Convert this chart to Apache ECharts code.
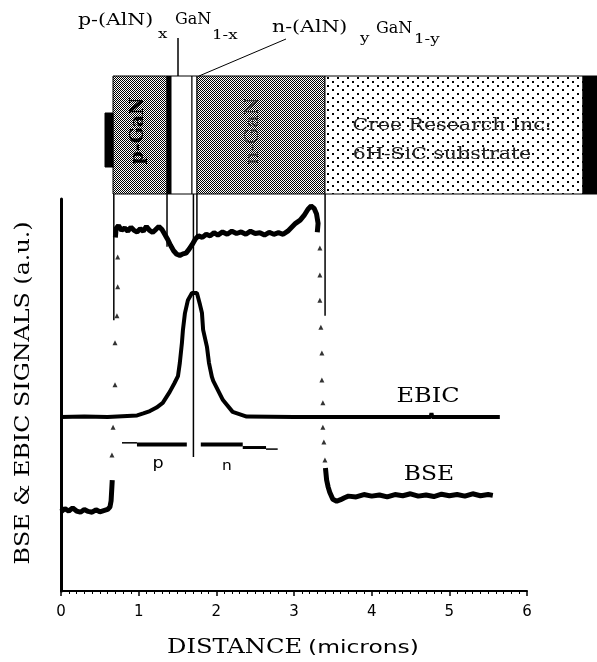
<!DOCTYPE html>
<html>
<head>
<meta charset="utf-8">
<script src="https://cdn.jsdelivr.net/npm/echarts@6/dist/echarts.min.js"></script>
<style>
html, body { margin: 0; padding: 0; background: #fff; }
#main { width: 597px; height: 662px; }
</style>
</head>
<body>
<div id="main"></div>
<script>
// distance in microns, signals in arbitrary units (axis height = 100)
const xTicks = ['0', '1', '2', '3', '4', '5', '6'];

const ebic = [
  [0, 44.4], [0.3, 44.5], [0.6, 44.4], [0.98, 44.8], [1.06, 45.3], [1.145, 45.9], [1.23, 46.8],
  [1.31, 48.0], [1.40, 50.8], [1.46, 53.0], [1.506, 54.8], [1.53, 58.2], [1.557, 63.3],
  [1.57, 66.6], [1.596, 70.9], [1.634, 74.2], [1.686, 76.0], [1.75, 76.0], [1.79, 73.0],
  [1.815, 70.9], [1.83, 66.6], [1.88, 62.2], [1.905, 58.2], [1.943, 54.6], [1.96, 53.6],
  [2.085, 48.7], [2.21, 45.7], [2.39, 44.5], [3.0, 44.4], [4.0, 44.4], [4.76, 44.4],
  [4.77, 45.4], [4.78, 44.4], [5.65, 44.4]
];

const bseLeft = [
  [0, 20.2], [0.05, 21.0], [0.1, 20.4], [0.15, 21.2], [0.2, 20.4], [0.25, 20.1], [0.3, 20.8],
  [0.35, 20.3], [0.4, 20.1], [0.45, 20.7], [0.5, 20.2], [0.55, 20.5], [0.6, 20.8],
  [0.63, 21.4], [0.645, 23.0], [0.655, 26.5], [0.66, 28.3]
];
const bseLeftDots = [
  [0.656, 34.7], [0.67, 41.8], [0.695, 52.6], [0.695, 63.3], [0.72, 70.2], [0.73, 77.6], [0.73, 85.2]
];
const bseTop = [
  [0.70, 90.2], [0.71, 92.5], [0.74, 93.2], [0.78, 92.0], [0.82, 92.6], [0.86, 91.8], [0.90, 92.8],
  [0.94, 92.0], [0.98, 91.6], [1.02, 92.4], [1.06, 91.8], [1.10, 93.0], [1.14, 92.0], [1.18, 91.5],
  [1.22, 92.2], [1.26, 93.0], [1.30, 92.2], [1.33, 91.2], [1.37, 89.8], [1.41, 88.2], [1.45, 86.8],
  [1.49, 85.9], [1.53, 85.6], [1.57, 86.0], [1.61, 86.2], [1.65, 87.2], [1.69, 88.4], [1.73, 89.8],
  [1.77, 90.6], [1.82, 90.2], [1.87, 91.0], [1.92, 90.6], [1.97, 91.4], [2.02, 90.8], [2.08, 91.6],
  [2.14, 91.0], [2.20, 91.8], [2.26, 91.2], [2.32, 91.6], [2.38, 91.0], [2.44, 91.8], [2.50, 91.2],
  [2.56, 91.4], [2.62, 90.8], [2.68, 91.5], [2.74, 91.0], [2.80, 91.4], [2.86, 91.0], [2.92, 91.8],
  [2.97, 92.8], [3.02, 93.8], [3.08, 94.6], [3.13, 95.8], [3.18, 97.4], [3.22, 98.2], [3.26, 97.6],
  [3.29, 96.2], [3.31, 93.8], [3.30, 91.5]
];
const bseRightDots = [
  [3.333, 87.5], [3.333, 80.6], [3.333, 74.2], [3.346, 67.3], [3.359, 60.7], [3.359, 53.8],
  [3.372, 48.0], [3.372, 41.8], [3.385, 38.0], [3.398, 33.4]
];
const bseRight = [
  [3.405, 31.4], [3.42, 28.3], [3.44, 26.5], [3.46, 25.2], [3.50, 23.4], [3.55, 22.9], [3.60, 23.3],
  [3.65, 23.8], [3.70, 24.2], [3.8, 24.0], [3.9, 24.6], [4.0, 24.2], [4.1, 24.5], [4.2, 24.0],
  [4.3, 24.6], [4.4, 24.3], [4.5, 24.8], [4.6, 24.2], [4.7, 24.5], [4.8, 24.1], [4.9, 24.7],
  [5.0, 24.3], [5.1, 24.6], [5.2, 24.2], [5.3, 24.8], [5.4, 24.3], [5.5, 24.6], [5.56, 24.4]
];

// device layers drawn above the plot (edges in microns)
const layerEdges = [0.67, 1.365, 1.415, 1.685, 1.75, 3.40, 6.72, 6.91];
const layerKinds = ['dark', 'black', 'white', 'white', 'dark', 'dots', 'black'];
const boxRange = [101.3, 131.4];
const contactTab = [0.566, 0.669, 108.2, 121.9];

// guide lines: x0, y0, x1, y1, width
const guides = [
  [0.68, 101.3, 0.68, 69.1, 1.5],
  [1.365, 101.3, 1.365, 87.8, 1.5],
  [1.705, 101.3, 1.705, 34.2, 1.5],
  [1.75, 101.3, 1.75, 90.5, 1.5],
  [3.40, 101.3, 3.40, 70.2, 1.5],
  [0.785, 37.8, 0.978, 37.8, 1.5],
  [0.978, 37.4, 1.62, 37.4, 4],
  [1.80, 37.4, 2.34, 37.4, 4],
  [2.34, 36.6, 2.64, 36.6, 3],
  [2.64, 36.2, 2.79, 36.2, 1.5]
];

function makePattern(w, h, dots) {
  const c = document.createElement('canvas');
  c.width = w; c.height = h;
  const g = c.getContext('2d');
  g.fillStyle = '#fff';
  g.fillRect(0, 0, w, h);
  g.fillStyle = '#000';
  dots.forEach(d => g.fillRect(d[0], d[1], d[2], d[3]));
  return { image: c, repeat: 'repeat' };
}
const fills = {
  dark: makePattern(2, 2, [[0, 0, 1, 1], [1, 1, 1, 1]]),
  dots: makePattern(10, 8, [[2, 1, 2, 2], [7, 5, 2, 2]]),
  white: '#fff',
  black: '#000'
};

const layerData = [];
for (let i = 0; i < layerKinds.length; i++) {
  layerData.push([layerEdges[i], layerEdges[i + 1], boxRange[0], boxRange[1], i]);
}
layerData.push([contactTab[0], contactTab[1], contactTab[2], contactTab[3], -1]);

const chart = echarts.init(document.getElementById('main'));

const serif = '"DejaVu Serif", serif';
const sans = '"DejaVu Sans", sans-serif';
const W = 1.28;

function txt(x, y, text, size, opts) {
  opts = opts || {};
  return {
    type: 'text', x: x, y: y, scaleX: opts.sx || W, rotation: opts.rot || 0, z: 100,
    style: {
      text: text, fill: opts.color || '#000',
      font: (opts.bold ? 'bold ' : '') + size + 'px ' + (opts.family || serif),
      align: opts.align || 'left', verticalAlign: 'middle'
    }
  };
}

const option = {
  animation: false,
  grid: { left: 61, right: 70, top: 199, bottom: 71 },
  xAxis: {
    type: 'value', min: 0, max: 6, interval: 1,
    axisLine: { lineStyle: { color: '#000', width: 2 } },
    axisTick: { length: 5, lineStyle: { color: '#000', width: 1.5 } },
    minorTick: { show: true, splitNumber: 10, length: 3, lineStyle: { color: '#000', width: 1 } },
    axisLabel: {
      color: '#000', fontSize: 15, fontFamily: 'DejaVu Sans', margin: 14,
      formatter: v => xTicks[Math.round(v)]
    },
    splitLine: { show: false }
  },
  yAxis: {
    type: 'value', min: 0, max: 100,
    axisLine: { show: true, lineStyle: { color: '#000', width: 3 } },
    axisTick: { show: false }, axisLabel: { show: false }, splitLine: { show: false }
  },
  series: [
    {
      type: 'custom', data: layerData, clip: false, silent: true,
      renderItem: function (params, api) {
        const p0 = api.coord([api.value(0), api.value(3)]);
        const p1 = api.coord([api.value(1), api.value(2)]);
        const k = api.value(4);
        const fill = k < 0 ? '#000' : fills[layerKinds[k]];
        return {
          type: 'rect',
          shape: { x: Math.round(p0[0]), y: Math.round(p0[1]),
                   width: Math.round(p1[0] - p0[0]), height: Math.round(p1[1] - p0[1]) },
          style: { fill: fill, stroke: '#000', lineWidth: 1 }
        };
      }
    },
    {
      type: 'custom', data: guides, clip: false, silent: true,
      renderItem: function (params, api) {
        const a = api.coord([api.value(0), api.value(1)]);
        const b = api.coord([api.value(2), api.value(3)]);
        return {
          type: 'line', shape: { x1: a[0], y1: a[1], x2: b[0], y2: b[1] },
          style: { stroke: '#000', lineWidth: api.value(4) }
        };
      }
    },
    { type: 'line', data: ebic, showSymbol: false, lineStyle: { color: '#000', width: 4 } },
    { type: 'line', data: bseLeft, showSymbol: false, lineStyle: { color: '#000', width: 5 } },
    { type: 'line', data: bseTop, showSymbol: false, lineStyle: { color: '#000', width: 5 } },
    { type: 'line', data: bseRight, showSymbol: false, lineStyle: { color: '#000', width: 5 } },
    { type: 'scatter', data: bseLeftDots.concat(bseRightDots), symbol: 'triangle', symbolSize: 5,
      itemStyle: { color: '#000' } }
  ],
  graphic: [
    txt(24, 393, 'BSE & EBIC SIGNALS (a.u.)', 20, { rot: Math.PI / 2, align: 'center', sx: 1.19 }),
    txt(167, 648, 'DISTANCE', 20, { sx: 1.21 }),
    txt(308, 648, '(microns)', 18, { family: sans, sx: 1.3 }),
    txt(428, 397, 'EBIC', 20, { align: 'center', sx: 1.2 }),
    txt(429, 475, 'BSE', 20, { align: 'center', sx: 1.17 }),
    txt(158, 464, 'p', 16, { align: 'center', family: sans, sx: 1.1 }),
    txt(227, 466, 'n', 14, { align: 'center', family: sans, sx: 1.1 }),
    txt(78, 21, 'p-(AlN)', 16),
    txt(158, 35, 'x', 13),
    txt(175, 20, 'GaN', 16, { sx: 1.0 }),
    txt(212, 36, '1-x', 13),
    txt(272, 28, 'n-(AlN)', 16),
    txt(360, 39, 'y', 13),
    txt(376, 29, 'GaN', 16, { sx: 1.0 }),
    txt(414, 40, '1-y', 13),
    { type: 'line', z: 100, shape: { x1: 178, y1: 38, x2: 178, y2: 76 }, style: { stroke: '#000', lineWidth: 1.5 } },
    { type: 'line', z: 100, shape: { x1: 286, y1: 39, x2: 199, y2: 76 }, style: { stroke: '#000', lineWidth: 1 } },
    txt(452, 126, 'Cree Research Inc:', 16, { align: 'center', color: '#222' }),
    txt(442, 155, '6H-SiC substrate', 16, { align: 'center', color: '#222' }),
    txt(138, 131, 'p-GaN', 19, { rot: Math.PI / 2, align: 'center', bold: true, sx: 1.0 }),
    txt(253, 131, 'n-GaN', 19, { rot: Math.PI / 2, align: 'center', color: '#333', sx: 1.1 })
  ]
};

chart.setOption(option);
</script>
</body>
</html>
